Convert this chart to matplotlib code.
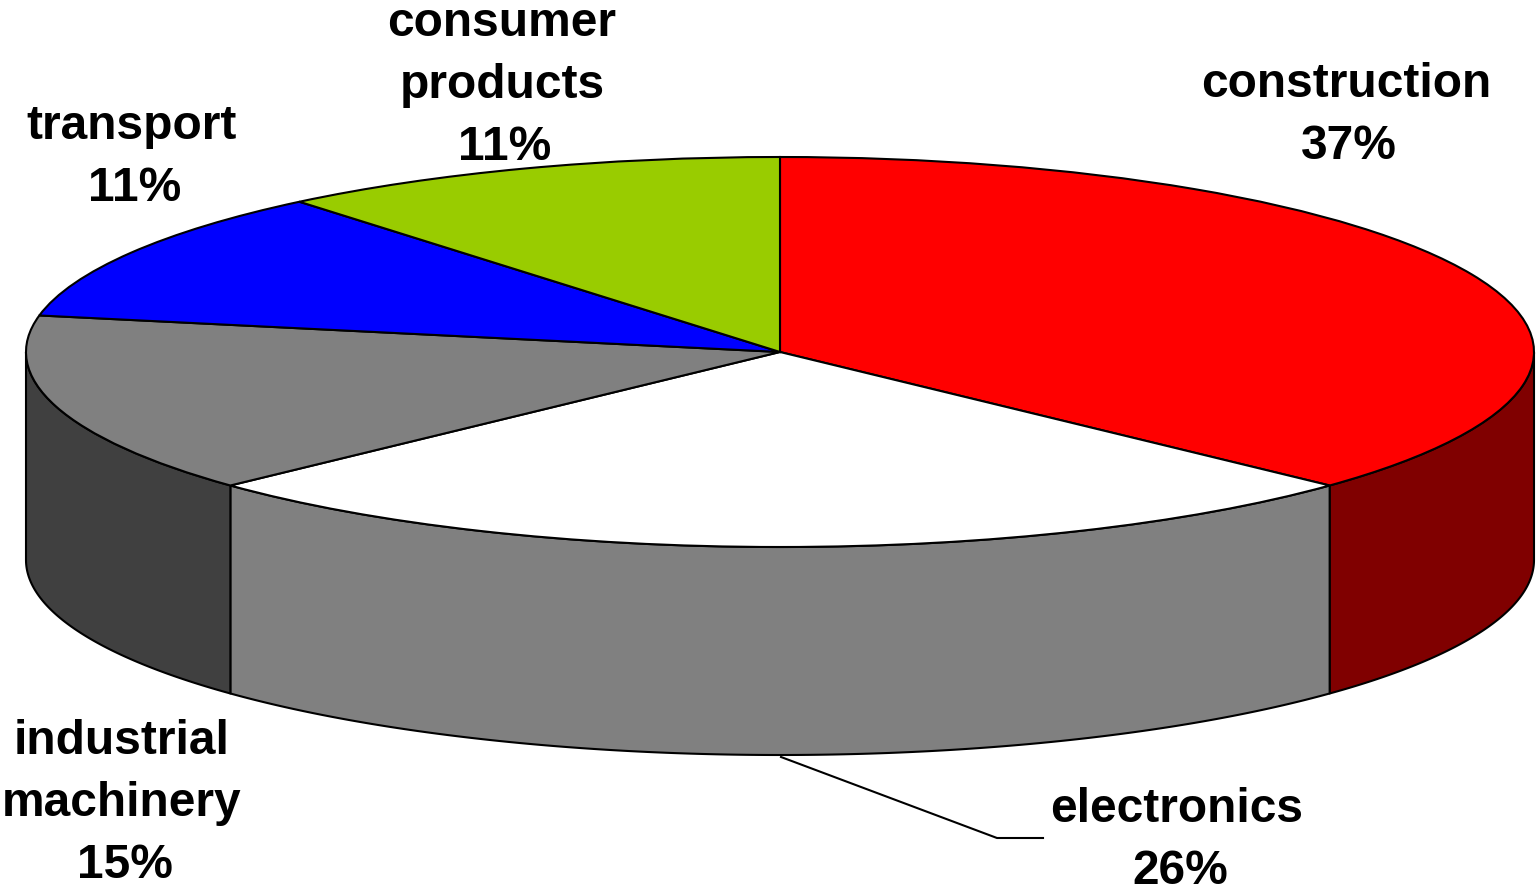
import numpy as np
import matplotlib
matplotlib.use("Agg")
import matplotlib.pyplot as plt
import matplotlib.patches as patches
from matplotlib.transforms import Affine2D

categories = ["construction", "electronics", "industrial\nmachinery", "transport", "consumer\nproducts"]
values = [37, 26, 15, 11, 11]
top_colors = ["#ff0000", "#ffffff", "#808080", "#0000ff", "#99cc00"]
side_colors = ["#800000", "#808080", "#404040", "#000080", "#4d6600"]
# x centre of the name, and baseline of the percent line
label_pos = [(1346, 159), (1177, 884), (122, 878), (132, 201), (502, 160)]

cx, cy = 780, 352
a, b = 754, 195
depth = 208
line_step = 62

plt.rcParams['font.family'] = ['Liberation Sans', 'DejaVu Sans']
fig = plt.figure(figsize=(15.38, 8.88), dpi=100)
ax = fig.add_axes([0, 0, 1, 1])
ax.set_xlim(0, 1538)
ax.set_ylim(888, 0)
ax.axis('off')

# angles run clockwise from the top of the ellipse
ends = np.cumsum(values) / sum(values) * 360
starts = ends - np.array(values) / sum(values) * 360


def rim(angles):
    r = np.radians(angles)
    return cx + a * np.sin(r), cy - b * np.cos(r)


# side walls, only the front half of the pie shows
for s, e, col in zip(starts, ends, side_colors):
    lo, hi = max(s, 90), min(e, 270)
    if lo >= hi:
        continue
    x, y = rim(np.linspace(lo, hi, 200))
    xs = np.concatenate([x, x[::-1]])
    ys = np.concatenate([y, (y + depth)[::-1]])
    ax.add_patch(patches.Polygon(np.column_stack([xs, ys]), closed=True, facecolor=col,
                                 edgecolor='black', linewidth=1.5, joinstyle='round'))

# top slices
squash = Affine2D().scale(a, b).translate(cx, cy) + ax.transData
for s, e, col in zip(starts, ends, top_colors):
    ax.add_patch(patches.Wedge((0, 0), 1, s - 90, e - 90, facecolor=col, edgecolor='black',
                               linewidth=1.5, transform=squash))

# leader line for electronics
ax.plot([781, 997, 1043], [757, 838, 838], color='black', linewidth=1.5)

for name, val, pos in zip(categories, values, label_pos):
    # name lines are stacked by hand, percent sits a little right of them
    lines = name.split("\n")
    for i, line in enumerate(lines):
        ax.text(pos[0], pos[1] - line_step * (len(lines) - i), line, ha='center', va='baseline',
                fontsize=34.5, fontweight='bold', color='black')
    ax.text(pos[0] + 3, pos[1], f"{val}%", ha='center', va='baseline', fontsize=34.5,
            fontweight='bold', color='black')

fig.savefig("out.png", dpi=100)
